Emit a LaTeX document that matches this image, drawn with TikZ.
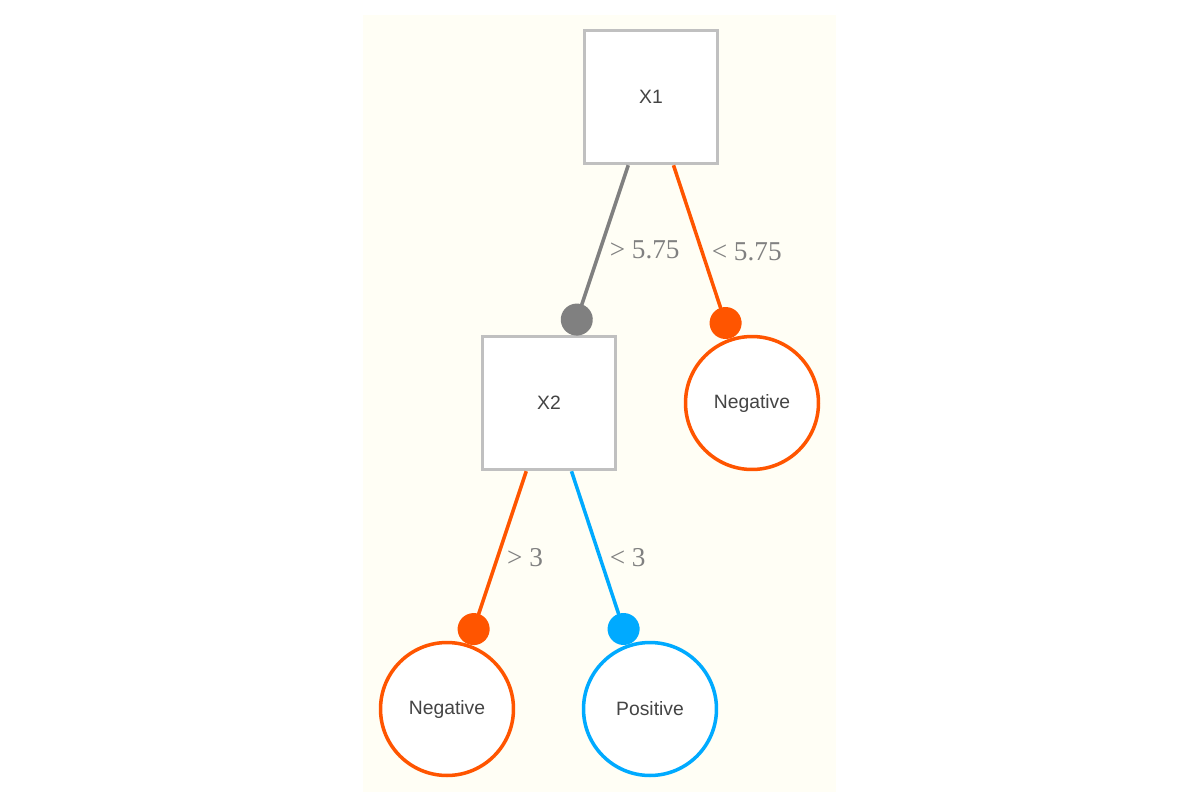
\documentclass[tikz,border=0pt]{standalone}
\usepackage{fontspec}
\setmainfont{Liberation Sans}
\newfontfamily\condfont{Liberation Serif}
\usetikzlibrary{arrows.meta}
\definecolor{negorange}{HTML}{FF5500}
\definecolor{posblue}{HTML}{00AAFF}
\definecolor{splitgray}{HTML}{808080}
\definecolor{boxgray}{HTML}{C0C0C0}
\definecolor{paper}{HTML}{FFFEF5}
\definecolor{labelgray}{HTML}{444444}
\tikzset{
  split/.style={draw=boxgray, fill=white, line width=2pt, minimum size=2.66cm,
    text=labelgray, font=\fontsize{11}{13}\selectfont},
  leaf/.style={circle, draw=#1, fill=white, line width=2pt, minimum size=2.66cm,
    text=labelgray, font=\fontsize{11}{13}\selectfont},
  branch/.style={draw=#1, line width=2pt, -{Circle[length=0.64cm]}},
  cond/.style={anchor=west, inner sep=0pt, xshift=0.16cm, text=splitgray,
    font=\condfont\fontsize{15.5}{18}\selectfont}
}
\begin{document}
\begin{tikzpicture}[x=0.02cm, y=-0.02cm]
            \useasboundingbox (0, 0) rectangle (1198, 805);
            \fill [paper] (363, 15) rectangle (836, 792);

            \node [split] (x1) at (651, 97) {X1};
            \node [split] (x2) at (549, 403) {X2};
            \node [leaf=negorange] (negtop) at (752, 403) {Negative};
            \node [leaf=negorange] (negbottom) at (447, 709) {Negative};
            \node [leaf=posblue] (pos) at (650, 709) {Positive};

            \foreach \from/\to/\col/\lab in {x1/x2/splitgray/{> 5.75}, x1/negtop/negorange/{< 5.75},
                                            x2/negbottom/negorange/{> 3}, x2/pos/posblue/{< 3}} {
            \draw [branch=\col] (\from) -- (\to) node [midway, cond] {\lab};
            }
        \end{tikzpicture}
\end{document}
